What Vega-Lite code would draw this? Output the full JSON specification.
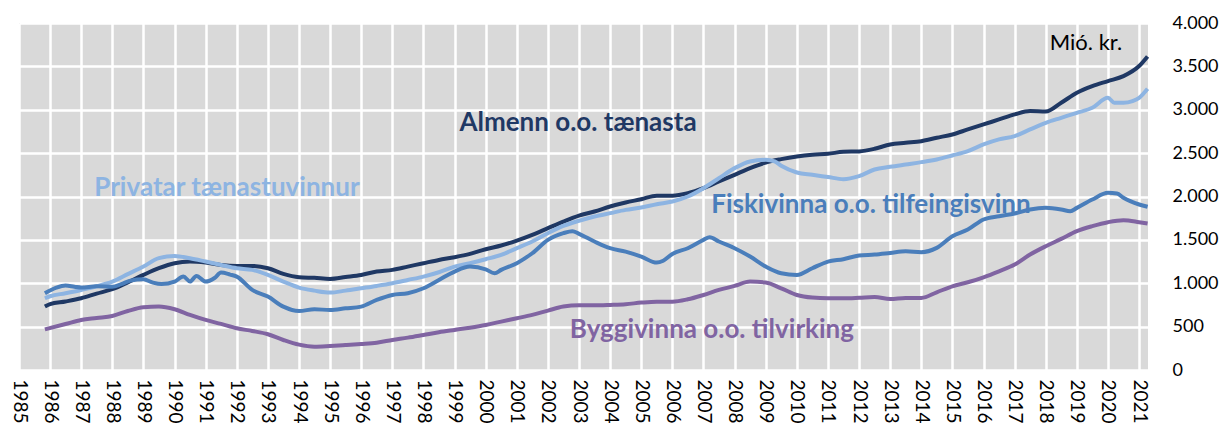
{
"$schema": "https://vega.github.io/schema/vega-lite/v6.json",
"width": 1129, "height": 347,
"autosize": "none",
"padding": {"left": 19, "top": 23, "right": 81, "bottom": 64},
"background": "white",
"config": {"view": {"fill": "#d9d9d9", "stroke": null}, "font": "Lato"},
"encoding": {
  "x": {"field": "d", "type": "temporal",
    "scale": {"type": "utc", "domain": [{"year": 1985, "month": 1, "date": 1, "utc": true}, {"year": 2021, "month": 4, "date": 15, "utc": true}]},
    "axis": {"title": null, "format": "%Y", "labelAngle": 90, "tickCount": {"interval": "year", "step": 1}, "grid": true, "gridColor": "white", "gridWidth": 2.5, "ticks": false, "domain": false, "labelFontSize": 19, "labelColor": "black", "labelPadding": 9, "labelOverlap": false, "labelBound": false, "labelFlush": false}},
  "y": {"field": "v", "type": "quantitative",
    "scale": {"domain": [0, 4000]},
    "axis": {"orient": "right", "title": null, "values": [0,500,1000,1500,2000,2500,3000,3500,4000], "labelExpr": "replace(format(datum.value, ','), ',', '.')", "grid": true, "gridColor": "white", "gridWidth": 2.5, "ticks": false, "domain": false, "labelFontSize": 18, "labelColor": "black", "labelPadding": 24, "labelAlign": "left"}},
  "color": {"field": "s", "type": "nominal", "legend": null,
    "scale": {"domain": ["A","P","F","B","M"], "range": ["#1f3864","#8db4e2","#4a7ebb","#8064a2","#000000"]}}
},
"layer": [
  {"data": {"values": [
    {"s":"A","d":"2002-12-20","v":2847,"t":"Almenn o.o. tænasta"},
    {"s":"P","d":"1991-09-08","v":2098,"t":"Privatar tænastuvinnur"},
    {"s":"F","d":"2012-05-20","v":1902,"t":"Fiskivinna o.o. tilfeingisvinn"},
    {"s":"B","d":"2007-04-10","v":461,"t":"Byggivinna o.o. tilvirking"}
  ]},
   "mark": {"type": "text", "fontSize": 26, "fontWeight": "bold", "align": "center", "baseline": "middle"},
   "encoding": {"text": {"field": "t"}}},
  {"data": {"values": [{"s":"M","d":"2019-04-18","v":3769,"t":"Mió. kr."}]},
   "mark": {"type": "text", "fontSize": 22, "align": "center", "baseline": "middle"},
   "encoding": {"text": {"field": "t"}}},
  {"data": {"values": [
{"s":"A","d":"1985-11-01","v":731},{"s":"A","d":"1986-01-01","v":760},{"s":"A","d":"1986-07-01","v":790},{"s":"A","d":"1987-01-01","v":827},{"s":"A","d":"1987-07-01","v":880},{"s":"A","d":"1988-01-01","v":931},{"s":"A","d":"1988-07-01","v":1010},{"s":"A","d":"1989-01-01","v":1096},{"s":"A","d":"1989-07-01","v":1173},{"s":"A","d":"1990-01-01","v":1231},{"s":"A","d":"1990-07-01","v":1250},{"s":"A","d":"1991-01-01","v":1238},{"s":"A","d":"1991-07-01","v":1211},{"s":"A","d":"1992-01-01","v":1200},{"s":"A","d":"1992-07-01","v":1200},{"s":"A","d":"1993-01-01","v":1173},{"s":"A","d":"1993-07-01","v":1108},{"s":"A","d":"1994-01-01","v":1070},{"s":"A","d":"1994-07-01","v":1062},{"s":"A","d":"1995-01-01","v":1050},{"s":"A","d":"1995-07-01","v":1072},{"s":"A","d":"1996-01-01","v":1096},{"s":"A","d":"1996-07-01","v":1135},{"s":"A","d":"1997-01-01","v":1154},{"s":"A","d":"1997-07-01","v":1192},{"s":"A","d":"1998-01-01","v":1231},{"s":"A","d":"1998-07-01","v":1269},{"s":"A","d":"1999-01-01","v":1300},{"s":"A","d":"1999-07-01","v":1338},{"s":"A","d":"2000-01-01","v":1392},{"s":"A","d":"2000-07-01","v":1435},{"s":"A","d":"2001-01-01","v":1492},{"s":"A","d":"2001-07-01","v":1558},{"s":"A","d":"2002-01-01","v":1635},{"s":"A","d":"2002-07-01","v":1711},{"s":"A","d":"2003-01-01","v":1780},{"s":"A","d":"2003-07-01","v":1827},{"s":"A","d":"2004-01-01","v":1885},{"s":"A","d":"2004-07-01","v":1931},{"s":"A","d":"2005-01-01","v":1969},{"s":"A","d":"2005-07-01","v":2010},{"s":"A","d":"2006-01-01","v":2010},{"s":"A","d":"2006-07-01","v":2038},{"s":"A","d":"2007-01-01","v":2096},{"s":"A","d":"2007-07-01","v":2173},{"s":"A","d":"2008-01-01","v":2250},{"s":"A","d":"2008-07-01","v":2327},{"s":"A","d":"2009-01-01","v":2392},{"s":"A","d":"2009-07-01","v":2431},{"s":"A","d":"2010-01-01","v":2461},{"s":"A","d":"2010-07-01","v":2481},{"s":"A","d":"2011-01-01","v":2492},{"s":"A","d":"2011-07-01","v":2515},{"s":"A","d":"2012-01-01","v":2520},{"s":"A","d":"2012-07-01","v":2550},{"s":"A","d":"2013-01-01","v":2600},{"s":"A","d":"2013-07-01","v":2619},{"s":"A","d":"2014-01-01","v":2638},{"s":"A","d":"2014-07-01","v":2677},{"s":"A","d":"2015-01-01","v":2715},{"s":"A","d":"2015-07-01","v":2773},{"s":"A","d":"2016-01-01","v":2831},{"s":"A","d":"2016-07-01","v":2888},{"s":"A","d":"2017-01-01","v":2946},{"s":"A","d":"2017-07-01","v":2985},{"s":"A","d":"2018-01-01","v":2980},{"s":"A","d":"2018-07-01","v":3081},{"s":"A","d":"2019-01-01","v":3196},{"s":"A","d":"2019-07-01","v":3273},{"s":"A","d":"2020-01-01","v":3331},{"s":"A","d":"2020-07-01","v":3388},{"s":"A","d":"2021-01-01","v":3504},{"s":"A","d":"2021-04-10","v":3615},
{"s":"P","d":"1985-11-01","v":827},{"s":"P","d":"1986-01-01","v":850},{"s":"P","d":"1986-07-01","v":885},{"s":"P","d":"1987-01-01","v":923},{"s":"P","d":"1987-07-01","v":965},{"s":"P","d":"1988-01-01","v":1019},{"s":"P","d":"1988-07-01","v":1105},{"s":"P","d":"1989-01-01","v":1192},{"s":"P","d":"1989-07-01","v":1290},{"s":"P","d":"1990-01-01","v":1315},{"s":"P","d":"1990-07-01","v":1288},{"s":"P","d":"1991-01-01","v":1250},{"s":"P","d":"1991-07-01","v":1211},{"s":"P","d":"1992-01-01","v":1173},{"s":"P","d":"1992-07-01","v":1154},{"s":"P","d":"1993-01-01","v":1096},{"s":"P","d":"1993-07-01","v":1019},{"s":"P","d":"1994-01-01","v":950},{"s":"P","d":"1994-07-01","v":915},{"s":"P","d":"1995-01-01","v":892},{"s":"P","d":"1995-07-01","v":915},{"s":"P","d":"1996-01-01","v":942},{"s":"P","d":"1996-07-01","v":969},{"s":"P","d":"1997-01-01","v":1000},{"s":"P","d":"1997-07-01","v":1038},{"s":"P","d":"1998-01-01","v":1077},{"s":"P","d":"1998-07-01","v":1127},{"s":"P","d":"1999-01-01","v":1192},{"s":"P","d":"1999-07-01","v":1231},{"s":"P","d":"2000-01-01","v":1277},{"s":"P","d":"2000-07-01","v":1327},{"s":"P","d":"2001-01-01","v":1404},{"s":"P","d":"2001-07-01","v":1481},{"s":"P","d":"2002-01-01","v":1577},{"s":"P","d":"2002-07-01","v":1661},{"s":"P","d":"2003-01-01","v":1720},{"s":"P","d":"2003-07-01","v":1769},{"s":"P","d":"2004-01-01","v":1808},{"s":"P","d":"2004-07-01","v":1846},{"s":"P","d":"2005-01-01","v":1873},{"s":"P","d":"2005-07-01","v":1911},{"s":"P","d":"2006-01-01","v":1942},{"s":"P","d":"2006-07-01","v":2000},{"s":"P","d":"2007-01-01","v":2096},{"s":"P","d":"2007-07-01","v":2211},{"s":"P","d":"2008-01-01","v":2327},{"s":"P","d":"2008-07-01","v":2404},{"s":"P","d":"2009-01-01","v":2423},{"s":"P","d":"2009-04-15","v":2404},{"s":"P","d":"2009-07-01","v":2354},{"s":"P","d":"2010-01-01","v":2277},{"s":"P","d":"2010-07-01","v":2250},{"s":"P","d":"2011-01-01","v":2225},{"s":"P","d":"2011-07-01","v":2200},{"s":"P","d":"2012-01-01","v":2235},{"s":"P","d":"2012-07-01","v":2311},{"s":"P","d":"2013-01-01","v":2342},{"s":"P","d":"2013-07-01","v":2369},{"s":"P","d":"2014-01-01","v":2396},{"s":"P","d":"2014-07-01","v":2427},{"s":"P","d":"2015-01-01","v":2473},{"s":"P","d":"2015-07-01","v":2523},{"s":"P","d":"2016-01-01","v":2600},{"s":"P","d":"2016-07-01","v":2658},{"s":"P","d":"2017-01-01","v":2696},{"s":"P","d":"2017-07-01","v":2773},{"s":"P","d":"2018-01-01","v":2850},{"s":"P","d":"2018-07-01","v":2907},{"s":"P","d":"2019-01-01","v":2965},{"s":"P","d":"2019-07-01","v":3023},{"s":"P","d":"2020-01-01","v":3138},{"s":"P","d":"2020-03-15","v":3081},{"s":"P","d":"2020-07-01","v":3081},{"s":"P","d":"2020-10-15","v":3100},{"s":"P","d":"2021-01-01","v":3138},{"s":"P","d":"2021-04-10","v":3242},
{"s":"F","d":"1985-11-01","v":885},{"s":"F","d":"1986-03-15","v":950},{"s":"F","d":"1986-07-01","v":975},{"s":"F","d":"1986-10-15","v":960},{"s":"F","d":"1987-01-01","v":950},{"s":"F","d":"1987-07-01","v":965},{"s":"F","d":"1988-01-01","v":960},{"s":"F","d":"1988-04-15","v":990},{"s":"F","d":"1988-08-01","v":1030},{"s":"F","d":"1989-01-01","v":1046},{"s":"F","d":"1989-04-15","v":1010},{"s":"F","d":"1989-08-01","v":990},{"s":"F","d":"1990-01-01","v":1019},{"s":"F","d":"1990-04-15","v":1077},{"s":"F","d":"1990-07-01","v":1020},{"s":"F","d":"1990-09-15","v":1085},{"s":"F","d":"1991-01-01","v":1019},{"s":"F","d":"1991-04-15","v":1060},{"s":"F","d":"1991-07-01","v":1123},{"s":"F","d":"1991-10-15","v":1100},{"s":"F","d":"1992-01-01","v":1077},{"s":"F","d":"1992-07-01","v":923},{"s":"F","d":"1993-01-01","v":846},{"s":"F","d":"1993-07-01","v":731},{"s":"F","d":"1994-01-01","v":680},{"s":"F","d":"1994-07-01","v":700},{"s":"F","d":"1995-01-01","v":692},{"s":"F","d":"1995-07-01","v":711},{"s":"F","d":"1996-01-01","v":731},{"s":"F","d":"1996-07-01","v":808},{"s":"F","d":"1997-01-01","v":865},{"s":"F","d":"1997-07-01","v":885},{"s":"F","d":"1998-01-01","v":942},{"s":"F","d":"1998-07-01","v":1038},{"s":"F","d":"1999-01-01","v":1135},{"s":"F","d":"1999-07-01","v":1192},{"s":"F","d":"2000-01-01","v":1161},{"s":"F","d":"2000-04-15","v":1115},{"s":"F","d":"2000-07-01","v":1154},{"s":"F","d":"2001-01-01","v":1231},{"s":"F","d":"2001-07-01","v":1346},{"s":"F","d":"2002-01-01","v":1500},{"s":"F","d":"2002-07-01","v":1577},{"s":"F","d":"2002-10-15","v":1600},{"s":"F","d":"2003-01-01","v":1570},{"s":"F","d":"2003-07-01","v":1481},{"s":"F","d":"2004-01-01","v":1404},{"s":"F","d":"2004-07-01","v":1365},{"s":"F","d":"2005-01-01","v":1308},{"s":"F","d":"2005-07-01","v":1238},{"s":"F","d":"2005-09-15","v":1260},{"s":"F","d":"2006-01-01","v":1338},{"s":"F","d":"2006-07-01","v":1404},{"s":"F","d":"2007-01-01","v":1500},{"s":"F","d":"2007-03-15","v":1531},{"s":"F","d":"2007-07-01","v":1481},{"s":"F","d":"2008-01-01","v":1404},{"s":"F","d":"2008-07-01","v":1308},{"s":"F","d":"2009-01-01","v":1192},{"s":"F","d":"2009-07-01","v":1115},{"s":"F","d":"2010-01-01","v":1096},{"s":"F","d":"2010-07-01","v":1173},{"s":"F","d":"2011-01-01","v":1250},{"s":"F","d":"2011-07-01","v":1277},{"s":"F","d":"2012-01-01","v":1320},{"s":"F","d":"2012-07-01","v":1331},{"s":"F","d":"2013-01-01","v":1350},{"s":"F","d":"2013-07-01","v":1369},{"s":"F","d":"2014-01-01","v":1358},{"s":"F","d":"2014-07-01","v":1408},{"s":"F","d":"2015-01-01","v":1542},{"s":"F","d":"2015-07-01","v":1619},{"s":"F","d":"2016-01-01","v":1735},{"s":"F","d":"2016-07-01","v":1773},{"s":"F","d":"2017-01-01","v":1804},{"s":"F","d":"2017-07-01","v":1850},{"s":"F","d":"2018-01-01","v":1869},{"s":"F","d":"2018-07-01","v":1850},{"s":"F","d":"2018-10-15","v":1830},{"s":"F","d":"2019-01-01","v":1869},{"s":"F","d":"2019-07-01","v":1965},{"s":"F","d":"2020-01-01","v":2042},{"s":"F","d":"2020-04-15","v":2035},{"s":"F","d":"2020-07-01","v":1985},{"s":"F","d":"2021-01-01","v":1908},{"s":"F","d":"2021-04-10","v":1881},
{"s":"B","d":"1985-11-01","v":469},{"s":"B","d":"1986-07-01","v":530},{"s":"B","d":"1987-01-01","v":577},{"s":"B","d":"1987-07-01","v":600},{"s":"B","d":"1988-01-01","v":623},{"s":"B","d":"1988-07-01","v":680},{"s":"B","d":"1989-01-01","v":723},{"s":"B","d":"1989-07-01","v":731},{"s":"B","d":"1990-01-01","v":700},{"s":"B","d":"1990-07-01","v":635},{"s":"B","d":"1991-01-01","v":577},{"s":"B","d":"1991-07-01","v":531},{"s":"B","d":"1992-01-01","v":481},{"s":"B","d":"1992-07-01","v":450},{"s":"B","d":"1993-01-01","v":412},{"s":"B","d":"1993-07-01","v":346},{"s":"B","d":"1994-01-01","v":292},{"s":"B","d":"1994-07-01","v":269},{"s":"B","d":"1995-01-01","v":277},{"s":"B","d":"1995-07-01","v":288},{"s":"B","d":"1996-01-01","v":300},{"s":"B","d":"1996-07-01","v":315},{"s":"B","d":"1997-01-01","v":346},{"s":"B","d":"1997-07-01","v":373},{"s":"B","d":"1998-01-01","v":404},{"s":"B","d":"1998-07-01","v":435},{"s":"B","d":"1999-01-01","v":462},{"s":"B","d":"1999-07-01","v":488},{"s":"B","d":"2000-01-01","v":519},{"s":"B","d":"2000-07-01","v":558},{"s":"B","d":"2001-01-01","v":596},{"s":"B","d":"2001-07-01","v":635},{"s":"B","d":"2002-01-01","v":685},{"s":"B","d":"2002-07-01","v":731},{"s":"B","d":"2003-01-01","v":745},{"s":"B","d":"2003-07-01","v":745},{"s":"B","d":"2004-01-01","v":750},{"s":"B","d":"2004-07-01","v":758},{"s":"B","d":"2005-01-01","v":777},{"s":"B","d":"2005-07-01","v":788},{"s":"B","d":"2006-01-01","v":788},{"s":"B","d":"2006-07-01","v":815},{"s":"B","d":"2007-01-01","v":865},{"s":"B","d":"2007-07-01","v":923},{"s":"B","d":"2008-01-01","v":969},{"s":"B","d":"2008-07-01","v":1019},{"s":"B","d":"2009-01-01","v":1008},{"s":"B","d":"2009-07-01","v":942},{"s":"B","d":"2010-01-01","v":865},{"s":"B","d":"2010-07-01","v":835},{"s":"B","d":"2011-01-01","v":827},{"s":"B","d":"2011-07-01","v":827},{"s":"B","d":"2012-01-01","v":833},{"s":"B","d":"2012-07-01","v":842},{"s":"B","d":"2013-01-01","v":819},{"s":"B","d":"2013-07-01","v":831},{"s":"B","d":"2014-01-01","v":831},{"s":"B","d":"2014-07-01","v":896},{"s":"B","d":"2015-01-01","v":965},{"s":"B","d":"2015-07-01","v":1011},{"s":"B","d":"2016-01-01","v":1069},{"s":"B","d":"2016-07-01","v":1138},{"s":"B","d":"2017-01-01","v":1215},{"s":"B","d":"2017-07-01","v":1331},{"s":"B","d":"2018-01-01","v":1427},{"s":"B","d":"2018-07-01","v":1511},{"s":"B","d":"2019-01-01","v":1600},{"s":"B","d":"2019-07-01","v":1658},{"s":"B","d":"2020-01-01","v":1704},{"s":"B","d":"2020-07-01","v":1727},{"s":"B","d":"2021-01-01","v":1704},{"s":"B","d":"2021-04-10","v":1688}
  ]},
   "mark": {"type": "line", "strokeWidth": 4, "interpolate": "monotone"},
   "encoding": {"detail": {"field": "s"}}}
]
}
